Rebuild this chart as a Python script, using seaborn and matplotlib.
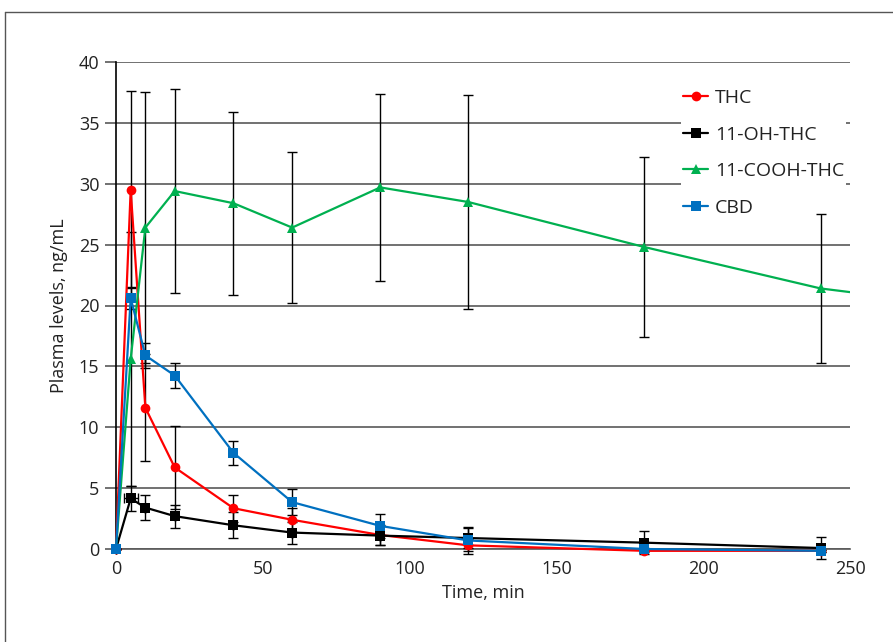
import numpy as np
import pandas as pd
import matplotlib
matplotlib.use("Agg")
import matplotlib.pyplot as plt
from matplotlib.patches import Rectangle
import seaborn as sns

# ---- data ----
time_min = [0, 5, 10, 20, 40, 60, 90, 120, 180, 240]
thc = [0, 29.5, 11.6, 6.7, 3.35, 2.4, 1.15, 0.3, -0.15, -0.15]
thc_err = [0, 8.1, 4.4, 3.4, 1.1, 1.0, 0.8, 0.5, 0.1, 0.1]
oh_thc = [0, 4.15, 3.4, 2.7, 1.95, 1.35, 1.1, 0.9, 0.52, 0.08]
oh_thc_err = [0, 1.0, 1.0, 0.95, 1.05, 0.9, 0.8, 0.8, 0.95, 0.9]
oh_thc_xerr = [0, 2.4, 0, 0, 0, 0, 0, 0, 0, 0]
time_cooh = [0, 5, 10, 20, 40, 60, 90, 120, 180, 240, 300]
cooh_thc = [0, 15.6, 26.4, 29.4, 28.4, 26.4, 29.7, 28.5, 24.8, 21.4, 19.6]
cooh_thc_err = [0, 10.4, 11.1, 8.4, 7.5, 6.2, 7.7, 8.8, 7.4, 6.1, 5.5]
cbd = [0, 20.6, 15.9, 14.25, 7.9, 3.85, 1.9, 0.7, 0.0, -0.15]
cbd_err = [0, 0.9, 1.0, 1.0, 1.0, 1.05, 1.0, 1.1, 0.1, 0.1]

series = ["THC", "11-OH-THC", "11-COOH-THC", "CBD"]
colors = {"THC": "#FF0000", "11-OH-THC": "#000000",
          "11-COOH-THC": "#00B050", "CBD": "#0070C0"}
markers = {"THC": "o", "11-OH-THC": "s", "11-COOH-THC": "^", "CBD": "s"}

frames = []
for name, t, v in [("THC", time_min, thc), ("11-OH-THC", time_min, oh_thc),
                   ("11-COOH-THC", time_cooh, cooh_thc), ("CBD", time_min, cbd)]:
    frames.append(pd.DataFrame({"Time": t, "Level": v, "Analyte": name}))
df = pd.concat(frames, ignore_index=True)

sns.set_theme(style="white")
plt.rcParams['font.family'] = ['Open Sans', 'DejaVu Sans']

fig = plt.figure(figsize=(8.93, 6.42), dpi=100)
ax = fig.add_axes([116 / 893, 1 - 549 / 642, (850 - 116) / 893, (549 - 62) / 642])

# error bars (all black)
errsets = [(time_min, thc, thc_err, None), (time_min, oh_thc, oh_thc_err, oh_thc_xerr),
           (time_cooh, cooh_thc, cooh_thc_err, None), (time_min, cbd, cbd_err, None)]
for t, v, e, xe in errsets:
    ax.errorbar(t, v, yerr=e, xerr=xe, fmt='none', ecolor='black',
                elinewidth=1.0, capsize=3.5, capthick=1.0, zorder=3)

sns.lineplot(data=df, x="Time", y="Level", hue="Analyte", style="Analyte",
             hue_order=series, style_order=series, palette=colors,
             markers=markers, dashes=False, sort=False, estimator=None,
             linewidth=1.6, markersize=7, markeredgewidth=0, ax=ax, zorder=4)

ax.set_xlim(0, 250)
ax.set_ylim(0, 40)

# clip horizontally at the plot edge but let markers near 0 show fully
clip_rect = Rectangle((-0.03, -0.04), 1.03, 1.08, transform=ax.transAxes,
                      facecolor='none', edgecolor='none')
for art in list(ax.lines) + list(ax.collections):
    art.set_clip_path(clip_rect)

ax.set_xticks([0, 50, 100, 150, 200, 250])
ax.set_yticks(range(0, 41, 5))
ax.yaxis.grid(True, color='#595959', linewidth=1.2)
ax.xaxis.grid(False)
ax.set_axisbelow(True)
for s in ['top', 'right']:
    ax.spines[s].set_visible(False)
ax.spines['bottom'].set_color('#595959')
ax.spines['bottom'].set_linewidth(1.2)
ax.spines['left'].set_color('black')
ax.spines['left'].set_linewidth(1.2)
ax.tick_params(axis='y', which='major', direction='out', length=8, width=1.2,
               color='#595959', left=True, labelsize=13, pad=4, colors='#222222')
ax.tick_params(axis='x', which='major', length=0, labelsize=13, pad=8, colors='#222222')
ax.set_xlabel("Time, min", fontsize=13, color='#222222', labelpad=4)
ax.set_ylabel("Plasma levels, ng/mL", fontsize=13, color='#222222', labelpad=8)

handles, labels = ax.get_legend_handles_labels()
leg = ax.legend(handles, labels, loc='upper right', bbox_to_anchor=(1.008, 0.968),
                frameon=True, framealpha=1, facecolor='white', edgecolor='none',
                fontsize=14, labelspacing=0.95, handlelength=1.3, handletextpad=0.35,
                borderpad=0.1, labelcolor='#222222')
leg.set_zorder(2.5)

# figure border (top and left)
fig.add_artist(plt.Line2D([5 / 893, 1.0], [1 - 12 / 642, 1 - 12 / 642],
                          transform=fig.transFigure, color='#555555', linewidth=1.0))
fig.add_artist(plt.Line2D([5 / 893, 5 / 893], [0, 1 - 12 / 642],
                          transform=fig.transFigure, color='#555555', linewidth=1.0))

fig.savefig("out.png", dpi=100, facecolor='white')
